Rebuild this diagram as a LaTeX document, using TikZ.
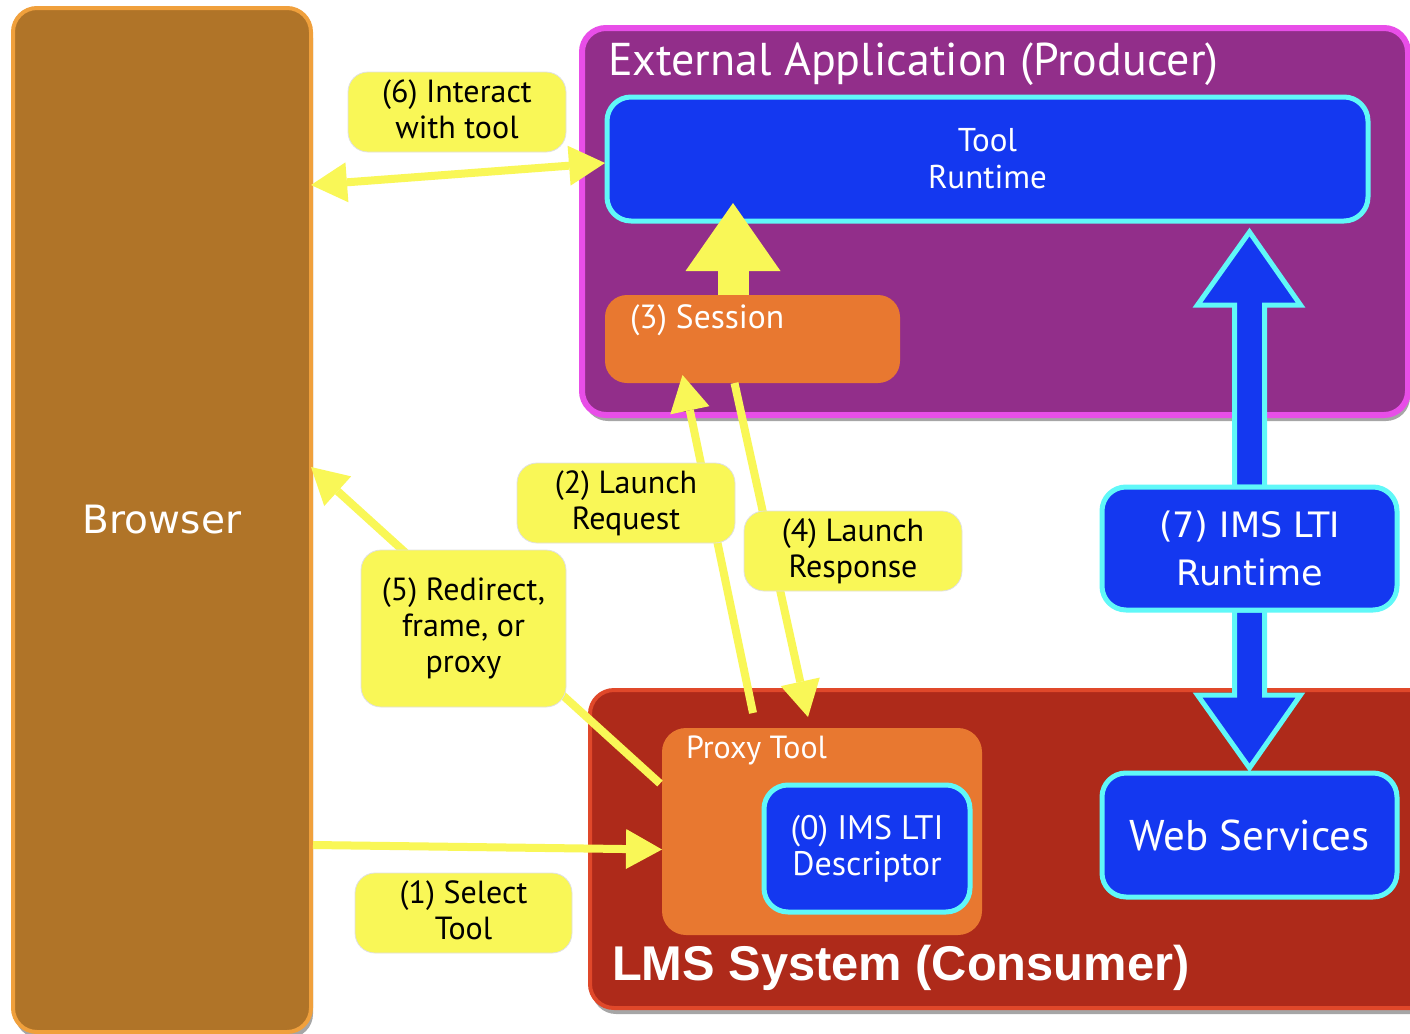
\documentclass[tikz,border=0pt]{standalone}
\usepackage{fontspec}
\setmainfont{PT Sans}
\newfontfamily\lucida{DejaVu Sans}
\newfontfamily\helv{Liberation Sans}
\usetikzlibrary{arrows.meta,shadows,calc}
\definecolor{browserfill}{HTML}{B07428}
\definecolor{browserline}{HTML}{F0A03C}
\definecolor{purplefill}{HTML}{922E8A}
\definecolor{purpleline}{HTML}{E84EE8}
\definecolor{bluefill}{HTML}{1438F0}
\definecolor{cyanline}{HTML}{60F8F8}
\definecolor{orangefill}{HTML}{E87830}
\definecolor{redfill}{HTML}{AE2A1A}
\definecolor{redline}{HTML}{E0482A}
\definecolor{yellowfill}{HTML}{F9F757}
\begin{document}
\begin{tikzpicture}[x=0.5pt,y=-0.5pt,
  box/.style={rounded corners=12pt, inner sep=0pt, outer sep=0pt},
  container/.style={box, drop shadow={shadow xshift=1pt, shadow yshift=-3pt, opacity=0.35, fill=black}},
  bluebox/.style={box, fill=bluefill, draw=cyanline, line width=2.5pt, text=white, align=center},
  orangebox/.style={box, rounded corners=11pt, fill=orangefill},
  yellowlabel/.style={box, rounded corners=10pt, fill=yellowfill, draw=black!12, line width=0.4pt,
     align=center, font=\fontsize{16}{18}\selectfont, text=black},
  whitetext/.style={text=white, inner sep=0pt, outer sep=0pt},
  yarrow/.style={draw=yellowfill, line width=4pt},
  fatblue/.style={fill=bluefill, draw=cyanline, line width=2.5pt, line join=miter},
]
\clip (0,0) rectangle (1410,1034);
\fill[white] (0,0) rectangle (1410,1034);

% containers
\node[container, fill=browserfill, draw=browserline, line width=2pt,
      minimum width=149pt, minimum height=512pt, text=white,
      font=\lucida\fontsize{19.5}{23}\selectfont] (browser) at (162,520) {Browser};

\node[container, fill=purplefill, draw=purpleline, line width=3pt,
      minimum width=413pt, minimum height=193.5pt] (ext) at (995,221.5) {};
\node[whitetext, anchor=west, font=\fontsize{23}{27}\selectfont] (exttitle) at (608,64)
      {External Application (Producer)};

\node[container, fill=redfill, draw=redline, line width=2pt,
      minimum width=425pt, minimum height=159pt] (lms) at (1015,849) {};
\node[whitetext, anchor=base west, font=\helv\bfseries\fontsize{24.4}{29}\selectfont] (lmstitle) at (612,980)
      {LMS System (Consumer)};

% inner boxes
\node[bluebox, minimum width=380.5pt, minimum height=62pt,
      font=\fontsize{16.5}{18.5}\selectfont] (tool) at (987.5,159) {Tool\\Runtime};

\node[orangebox, minimum width=147.5pt, minimum height=44pt] (session) at (752.5,339) {};
\node[whitetext, anchor=west, font=\fontsize{16.75}{20}\selectfont] (sesstitle) at (630,320) {(3) Session};

\node[orangebox, rounded corners=12pt, minimum width=160pt, minimum height=103.5pt] (proxy) at (822,831.5) {};
\node[whitetext, anchor=west, font=\fontsize{16}{19}\selectfont] (proxytitle) at (686,750) {Proxy Tool};

\node[bluebox, minimum width=103pt, minimum height=63.5pt,
      font=\fontsize{17}{18}\selectfont] (desc) at (867,848.5) {(0) IMS LTI\\Descriptor};

% blue fat double arrow (7)
\begin{scope}[shift={(1249.5,487)}]
  \path[fatblue] (-15,0) -- (-15,-182) -- (-52,-182) -- (0,-255) -- (51,-182) -- (15,-182) -- (15,0) -- cycle;
\end{scope}
\begin{scope}[shift={(1249.5,610)}]
  \path[fatblue] (-15,0) -- (-15,85) -- (-52,85) -- (0,158) -- (51,85) -- (15,85) -- (15,0) -- cycle;
\end{scope}

\node[bluebox, minimum width=147.5pt, minimum height=61.5pt,
      font=\lucida\fontsize{17.5}{24}\selectfont] (rt) at (1249.5,548.5) {(7) IMS LTI\\Runtime};
\node[bluebox, minimum width=147.5pt, minimum height=62pt,
      font=\fontsize{21.5}{25}\selectfont] (ws) at (1249.5,835) {Web Services};

% yellow fat arrow session -> tool
\draw[draw=yellowfill, line width=15.5pt,
      -{Triangle[width=47.5pt, length=34pt, line width=0pt]}]
  ($(session.north)+(-19.5,0)$) -- ($(tool.south)+(-254.5,-18)$);

% thin yellow arrows
\draw[yarrow, {Triangle[width=20pt, length=18pt, line width=0pt]}-{Triangle[width=20pt, length=18pt, line width=0pt]}]
  ($(browser.east |- tool.west)+(0,26)$) -- ($(tool.west)+(-2,4)$);
\draw[yarrow, -{Triangle[width=20pt, length=18pt, line width=0pt]}]
  ($(proxy.west)+(-2,-48)$) -- ($(browser.east)+(0,-53)$);
\draw[yarrow, -{Triangle[width=20pt, length=18pt, line width=0pt]}]
  ($(browser.east)+(2,325)$) -- ($(proxy.west)+(0,18)$);
\draw[yarrow, -{Triangle[width=20pt, length=18pt, line width=0pt]}]
  ($(proxy.north)+(-69,-15)$) -- ($(session.south)+(-70,-8)$);
\draw[yarrow, -{Triangle[width=20pt, length=18pt, line width=0pt]}]
  ($(session.south)+(-18,0)$) -- ($(proxy.north)+(-14,-11)$);

% labels
\node[yellowlabel, minimum width=109pt, minimum height=40pt] (l6) at (457,112) {(6) Interact\\with tool\vphantom{p}};
\node[yellowlabel, minimum width=109pt, minimum height=40pt] (l2) at (626,503) {(2) Launch\\Request};
\node[yellowlabel, minimum width=109pt, minimum height=40pt] (l4) at (853,551) {(4) Launch\\Response};
\node[yellowlabel, minimum width=102.5pt, minimum height=78.5pt] (l5) at (463.5,628.5) {(5) Redirect,\\frame, or\\proxy};
\node[yellowlabel, minimum width=108.5pt, minimum height=40pt] (l1) at (463.5,913) {(1) Select\\Tool\vphantom{p}};
\end{tikzpicture}
\end{document}
